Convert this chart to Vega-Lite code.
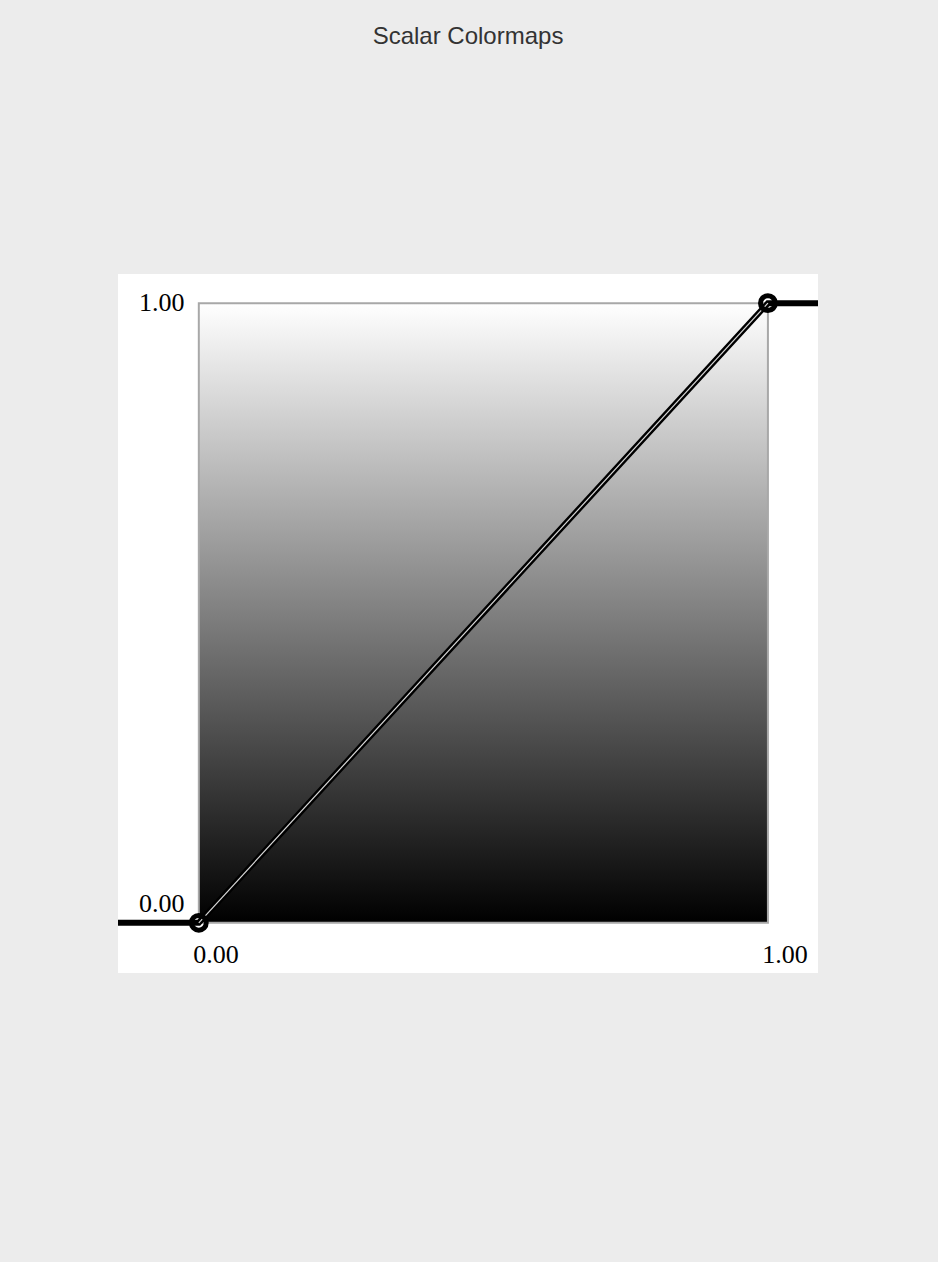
{
  "$schema": "https://vega.github.io/schema/vega-lite/v6.json",
  "width": 700,
  "height": 699,
  "autosize": {"type": "none"},
  "padding": {"left": 118, "top": 274, "right": 120, "bottom": 289},
  "background": "#ececec",
  "config": {"view": {"fill": "white", "stroke": null}},
  "title": {"text": "Scalar Colormaps", "font": "Liberation Sans", "fontSize": 24, "fontWeight": "normal", "color": "#333", "offset": 225, "anchor": "middle"},
  "datasets": {
    "box": [{"x0": 0, "x1": 1, "y0": 0, "y1": 1}],
    "curve": [
      {"x": -0.142, "y": 0, "o": 0},
      {"x": 0, "y": 0, "o": 1},
      {"x": 1, "y": 1, "o": 2},
      {"x": 1.088, "y": 1, "o": 3}
    ],
    "pts": [{"x": 0, "y": 0}, {"x": 1, "y": 1}],
    "leftlabels": [
      {"x": -0.025, "y": 1, "t": "1.00"},
      {"x": -0.025, "y": 0.03, "t": "0.00"}
    ],
    "bottomlabels": [
      {"x": 0.03, "y": -0.052, "t": "0.00"},
      {"x": 1.03, "y": -0.052, "t": "1.00"}
    ]
  },
  "layer": [
    {
      "data": {"name": "box"},
      "mark": {"type": "rect", "stroke": "#a8a8a8", "strokeWidth": 2,
        "color": {"gradient": "linear", "x1": 0, "y1": 1, "x2": 0, "y2": 0,
          "stops": [{"offset": 0, "color": "#000000"}, {"offset": 1, "color": "#ffffff"}]}},
      "encoding": {
        "x": {"field": "x0", "type": "quantitative", "scale": {"domain": [-0.142, 1.088], "nice": false, "zero": false}, "axis": null},
        "x2": {"field": "x1"},
        "y": {"field": "y0", "type": "quantitative", "scale": {"domain": [-0.081, 1.047], "nice": false, "zero": false}, "axis": null},
        "y2": {"field": "y1"}
      }
    },
    {
      "data": {"name": "curve"},
      "mark": {"type": "line", "color": "black", "strokeWidth": 6, "clip": true},
      "encoding": {
        "x": {"field": "x", "type": "quantitative"},
        "y": {"field": "y", "type": "quantitative"},
        "order": {"field": "o"}
      }
    },
    {
      "data": {"name": "pts"},
      "mark": {"type": "line", "color": "#d8d8d8", "strokeWidth": 1.2},
      "encoding": {
        "x": {"field": "x", "type": "quantitative"},
        "y": {"field": "y", "type": "quantitative"}
      }
    },
    {
      "data": {"name": "pts"},
      "mark": {"type": "point", "filled": false, "color": "black", "strokeWidth": 5, "size": 220, "opacity": 1},
      "encoding": {
        "x": {"field": "x", "type": "quantitative"},
        "y": {"field": "y", "type": "quantitative"}
      }
    },
    {
      "data": {"name": "leftlabels"},
      "mark": {"type": "text", "font": "Liberation Serif", "fontSize": 26, "color": "black", "align": "right", "baseline": "middle"},
      "encoding": {
        "x": {"field": "x", "type": "quantitative"},
        "y": {"field": "y", "type": "quantitative"},
        "text": {"field": "t"}
      }
    },
    {
      "data": {"name": "bottomlabels"},
      "mark": {"type": "text", "font": "Liberation Serif", "fontSize": 26, "color": "black", "align": "center", "baseline": "middle"},
      "encoding": {
        "x": {"field": "x", "type": "quantitative"},
        "y": {"field": "y", "type": "quantitative"},
        "text": {"field": "t"}
      }
    }
  ]
}
